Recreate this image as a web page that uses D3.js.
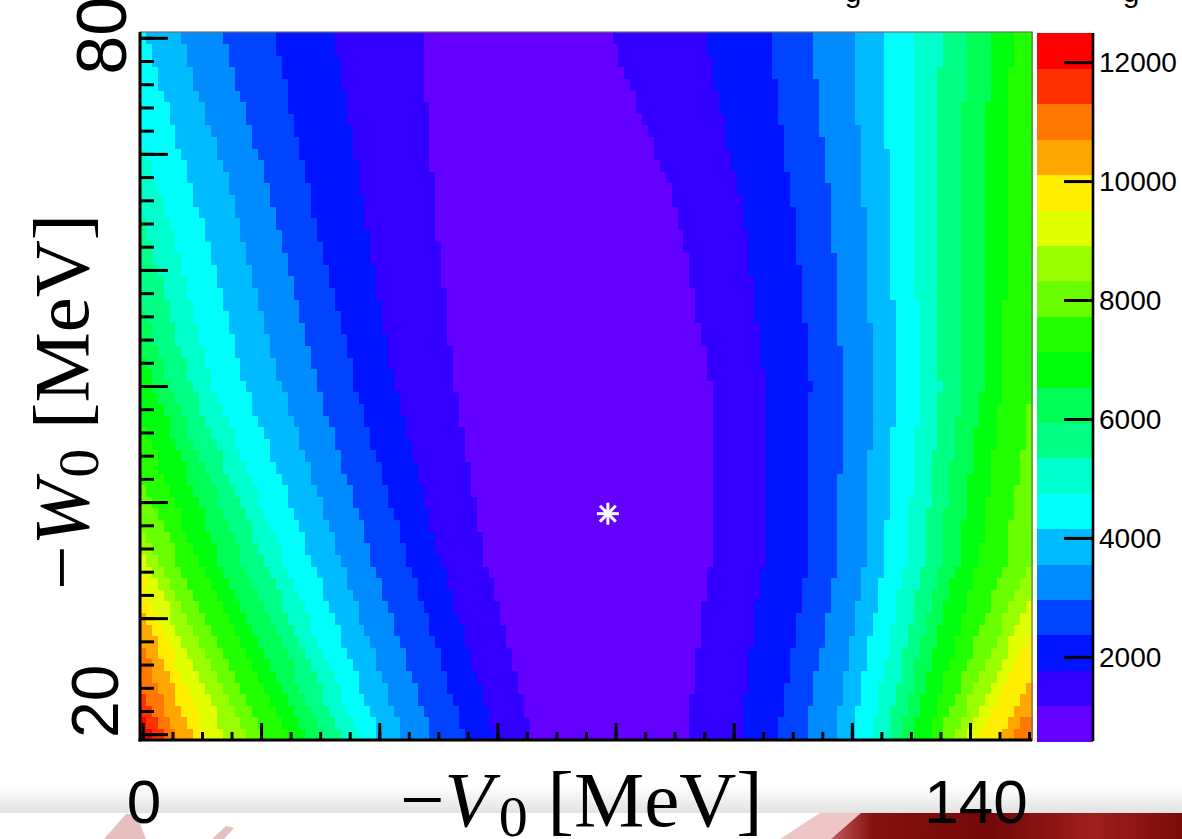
<!DOCTYPE html>
<html>
<head>
<meta charset="utf-8">
<script src="https://cdn.jsdelivr.net/npm/d3@7"></script>
<style>
  html, body { margin: 0; padding: 0; background: #ffffff; }
  svg { display: block; }
</style>
</head>
<body>
<svg id="chart" width="1182" height="839"></svg>
<script>
// ---------- scan grid ----------
const vGrid = d3.range(0, 151);   // -V0 [MeV], 1 MeV steps
const wGrid = d3.range(20, 81);   // -W0 [MeV], 1 MeV steps

// rows (-W0) at which the contour crossings are listed
const sampleW = [80, 65, 50, 35, 20];

// left flank of the valley: -V0 where level boundary k (band k+1 | band k) is crossed
const leftEdges = [
  [47.2, 49.5, 52.8, 58.0, 65.7],
  [32.5, 37.5, 42.5, 50.5, 59.5],
  [22.3, 29.0, 36.0, 45.0, 54.5],
  [13.4, 22.5, 29.5, 39.0, 49.0],
  [6.4, 16.0, 23.5, 33.5, 44.0],
  [0.5, 9.5, 17.5, 28.5, 39.8],
  [-6.0, 4.0, 12.0, 24.0, 36.5],
  [-12.0, -0.5, 8.3, 20.5, 33.5],
  [-18.0, -6.0, 4.6, 17.0, 30.5],
  [-24.0, -11.0, 2.0, 13.0, 27.5],
  [-30.0, -16.0, -3.0, 9.5, 24.2],
  [-36.0, -21.0, -7.0, 6.0, 20.6],
  [-42.0, -26.0, -10.0, 2.5, 17.2],
  [-48.0, -31.0, -14.0, 0.5, 13.8],
  [-54.0, -36.0, -18.0, -1.5, 10.7],
  [-60.0, -41.0, -22.0, -3.0, 8.2],
  [-66.0, -46.0, -26.0, -5.5, 5.4],
  [-72.0, -51.0, -30.0, -10.0, 3.4],
  [-78.0, -56.0, -34.0, -13.0, 1.7]
];

// right flank of the valley: -V0 where level boundary k (band k | band k+1) is crossed
const rightEdges = [
  [79.4, 90.5, 96.3, 96.0, 92.2],
  [95.2, 101.5, 105.5, 105.0, 101.2],
  [106.2, 110.0, 113.0, 112.5, 107.5],
  [113.2, 116.5, 118.5, 117.5, 112.2],
  [120.1, 122.0, 123.5, 122.0, 117.3],
  [125.1, 126.5, 127.5, 125.5, 120.1],
  [130.1, 130.5, 131.5, 129.0, 123.5],
  [135.1, 134.5, 135.0, 132.0, 126.1],
  [139.3, 138.5, 138.5, 135.0, 128.3],
  [143.3, 142.5, 142.0, 138.0, 130.0],
  [147.1, 146.5, 145.5, 141.5, 133.1],
  [151.0, 151.0, 150.5, 146.0, 135.1],
  [155.0, 154.5, 153.0, 150.2, 137.4],
  [159.0, 158.5, 156.0, 153.0, 139.9],
  [163.0, 162.5, 159.5, 156.0, 141.3],
  [167.0, 166.5, 163.0, 160.0, 145.0],
  [171.0, 175.0, 178.0, 170.0, 147.2],
  [175.0, 179.0, 182.0, 175.0, 151.5],
  [179.0, 183.0, 186.0, 180.0, 155.0]
];

// contour levels of the colour scale
const zMin = 585;
const zMax = 12490;
const nLevels = 20;
const levelColors = [
  "#6300ff", "#3300ff", "#0014ff", "#0044ff", "#008bff",
  "#00bbff", "#00fffc", "#00ffcc", "#00ff85", "#00ff55",
  "#00ff0e", "#22ff00", "#69ff00", "#99ff00", "#e0ff00",
  "#ffee00", "#ffa700", "#ff7700", "#ff3000", "#ff0000"
];
const zTicks = [2000, 4000, 6000, 8000, 10000, 12000];

// axis ticks and labels
const xMajorTicks = [0, 20, 40, 60, 80, 100, 120, 140];
const xMinorTicks = d3.range(0, 151, 5);
const yMajorTicks = [20, 30, 40, 50, 60, 70, 80];
const yMinorTicks = d3.range(20, 81, 2);
const xTickLabels = [0, 140];
const yTickLabels = [20, 80];

// best-fit point
const bestFit = { v: 78.7, w: 39.0 };

// ---------- layout ----------
const frame = { left: 140, right: 1032, top: 32, bottom: 740 };
const cbar = { left: 1037, right: 1093, top: 33, bottom: 741 };

const svg = d3.select("#chart");

const x = d3.scaleLinear().domain([-0.5, 150.5]).range([frame.left, frame.right]);
const y = d3.scaleLinear().domain([19.5, 80.5]).range([frame.bottom, frame.top]);
const z = d3.scaleLinear().domain([zMin, zMax]).range([cbar.bottom, cbar.top]);
const levelStep = (zMax - zMin) / nLevels;
const levels = d3.range(nLevels + 1).map(i => zMin + i * levelStep);

// contour crossing positions as a function of -W0
const leftAt = leftEdges.map(e => d3.scaleLinear().domain(sampleW).range(e));
const rightAt = rightEdges.map(e => d3.scaleLinear().domain(sampleW).range(e));

function bandOf(v, w) {
  let b = 0;
  leftAt.forEach(f => { if (v < f(w)) b++; });
  rightAt.forEach(f => { if (v > f(w)) b++; });
  return Math.min(b, nLevels - 1);
}

// ---------- slide background along the bottom ----------
const defs = svg.append("defs");
const gGray = defs.append("linearGradient").attr("id", "grayband").attr("x1", 0).attr("y1", 0).attr("x2", 0).attr("y2", 1);
gGray.append("stop").attr("offset", "0%").attr("stop-color", "#ffffff");
gGray.append("stop").attr("offset", "100%").attr("stop-color", "#e2e2e2");
const gRed = defs.append("linearGradient").attr("id", "redband").attr("x1", 0).attr("y1", 0).attr("x2", 1).attr("y2", 0);
gRed.append("stop").attr("offset", "0%").attr("stop-color", "#c05a5a");
gRed.append("stop").attr("offset", "12%").attr("stop-color", "#861010");
gRed.append("stop").attr("offset", "45%").attr("stop-color", "#730808");
gRed.append("stop").attr("offset", "75%").attr("stop-color", "#a01e1e");
gRed.append("stop").attr("offset", "100%").attr("stop-color", "#7a0b0b");

svg.append("rect").attr("x", 0).attr("y", 786).attr("width", 1182).attr("height", 27).attr("fill", "url(#grayband)");
svg.append("path")
  .attr("d", "M780,839 L820,813 L870,813 L835,839 Z")
  .attr("fill", "#e9b8b8").attr("opacity", 0.8);
svg.append("path")
  .attr("d", "M831,839 L861,813 L1182,813 L1182,839 Z")
  .attr("fill", "url(#redband)");
// faint streaks in the pale part
svg.append("path")
  .attr("d", "M104,839 L126,814 L136,814 L146,839 Z M212,839 L226,826 L234,828 L224,839 Z")
  .attr("fill", "#c77070").attr("opacity", 0.45);

// ---------- cells ----------
const cells = [];
wGrid.forEach(w => {
  // merge runs of equal band along a row
  let start = vGrid[0], band = bandOf(vGrid[0], w);
  for (let i = 1; i <= vGrid.length; i++) {
    const v = vGrid[i];
    const b = i < vGrid.length ? bandOf(v, w) : -1;
    if (b !== band) {
      cells.push({ v0: start, v1: vGrid[i - 1], w, band });
      start = v; band = b;
    }
  }
});

svg.append("g")
  .attr("shape-rendering", "crispEdges")
  .selectAll("rect")
  .data(cells)
  .join("rect")
  .attr("x", d => x(d.v0 - 0.5))
  .attr("y", d => y(d.w + 0.5))
  .attr("width", d => x(d.v1 + 0.5) - x(d.v0 - 0.5) + 0.6)
  .attr("height", d => y(d.w - 0.5) - y(d.w + 0.5) + 0.6)
  .attr("fill", d => levelColors[d.band]);

// ---------- frame ----------
svg.append("rect")
  .attr("x", frame.left).attr("y", frame.top)
  .attr("width", frame.right - frame.left).attr("height", frame.bottom - frame.top)
  .attr("fill", "none").attr("stroke", "#6e6e6e").attr("stroke-width", 1.2);

// ---------- axes (ticks inside the frame) ----------
function styleAxis(g, w) {
  g.select(".domain").remove();
  g.selectAll(".tick line").attr("stroke", "#000").attr("stroke-width", w);
  g.selectAll(".tick text").remove();
}
svg.append("g").attr("transform", `translate(0,${frame.bottom})`)
  .call(d3.axisBottom(x).tickValues(xMinorTicks).tickSize(-8).tickFormat(""))
  .call(g => styleAxis(g, 3));
svg.append("g").attr("transform", `translate(0,${frame.bottom})`)
  .call(d3.axisBottom(x).tickValues(xMajorTicks).tickSize(-17).tickFormat(""))
  .call(g => styleAxis(g, 3));
svg.append("g").attr("transform", `translate(${frame.left},0)`)
  .call(d3.axisLeft(y).tickValues(yMinorTicks).tickSize(-14).tickFormat(""))
  .call(g => styleAxis(g, 3));
svg.append("g").attr("transform", `translate(${frame.left},0)`)
  .call(d3.axisLeft(y).tickValues(yMajorTicks).tickSize(-28).tickFormat(""))
  .call(g => styleAxis(g, 3));

svg.append("line").attr("x1", frame.left).attr("x2", frame.left)
  .attr("y1", frame.top).attr("y2", frame.bottom + 1.5)
  .attr("stroke", "#000").attr("stroke-width", 3);
svg.append("line").attr("x1", frame.left - 1.5).attr("x2", frame.right)
  .attr("y1", frame.bottom).attr("y2", frame.bottom)
  .attr("stroke", "#000").attr("stroke-width", 3);

// ---------- best-fit marker ----------
const star = svg.append("g")
  .attr("transform", `translate(${x(bestFit.v)},${y(bestFit.w)})`)
  .attr("stroke", "#ffffff").attr("stroke-width", 3).attr("stroke-linecap", "butt");
const r = 11;
star.append("line").attr("x1", -r).attr("x2", r).attr("y1", 0).attr("y2", 0);
star.append("line").attr("x1", 0).attr("x2", 0).attr("y1", -r).attr("y2", r);
star.append("line").attr("x1", -r * 0.72).attr("x2", r * 0.72).attr("y1", -r * 0.72).attr("y2", r * 0.72);
star.append("line").attr("x1", -r * 0.72).attr("x2", r * 0.72).attr("y1", r * 0.72).attr("y2", -r * 0.72);

// ---------- colour bar ----------
svg.append("g")
  .attr("shape-rendering", "crispEdges")
  .selectAll("rect")
  .data(d3.range(nLevels))
  .join("rect")
  .attr("x", cbar.left)
  .attr("width", cbar.right - cbar.left)
  .attr("y", i => z(levels[i + 1]))
  .attr("height", i => z(levels[i]) - z(levels[i + 1]) + 0.5)
  .attr("fill", i => levelColors[i]);

svg.append("g").attr("transform", `translate(${cbar.right},0)`)
  .call(d3.axisLeft(z).tickValues(zTicks).tickSize(-29).tickFormat(""))
  .call(g => {
    g.select(".domain").remove();
    g.selectAll(".tick line").attr("x2", -29).attr("stroke", "#000").attr("stroke-width", 3);
    g.selectAll(".tick text").remove();
  });
svg.append("line").attr("x1", cbar.right).attr("x2", cbar.right)
  .attr("y1", cbar.top).attr("y2", cbar.bottom)
  .attr("stroke", "#000").attr("stroke-width", 2.6);

svg.append("g")
  .selectAll("text")
  .data(zTicks)
  .join("text")
  .attr("x", 1099)
  .attr("y", d => z(d))
  .attr("dy", "0.36em")
  .attr("font-family", "'Liberation Sans', Arial, sans-serif")
  .attr("font-size", 28)
  .attr("fill", "#000")
  .text(d => d);

// ---------- tick labels ----------
const labelFont = "'Liberation Sans', Arial, sans-serif";
svg.append("g")
  .selectAll("text")
  .data(xTickLabels)
  .join("text")
  .attr("x", d => x(d) + (d === 0 ? 1 : 6))
  .attr("y", 823)
  .attr("text-anchor", "middle")
  .attr("font-family", labelFont)
  .attr("font-size", 62)
  .attr("fill", "#000")
  .text(d => d);

svg.append("g")
  .selectAll("text")
  .data(yTickLabels)
  .join("text")
  .attr("transform", d => d === 80
    ? `translate(126,${y(d) - 2}) rotate(-90)`
    : `translate(118,${y(d) - 33}) rotate(-90)`)
  .attr("text-anchor", "middle")
  .attr("font-family", labelFont)
  .attr("font-size", d => d === 80 ? 70 : 66)
  .attr("fill", "#000")
  .text(d => d);

// caption line above the plot, mostly outside the page
svg.append("g")
  .selectAll("text")
  .data([{ x: 853, t: "g" }, { x: 1131, t: "g" }])
  .join("text")
  .attr("x", d => d.x).attr("y", 2)
  .attr("text-anchor", "middle")
  .attr("font-family", labelFont)
  .attr("font-size", 30)
  .attr("fill", "#000")
  .text(d => d.t);

// ---------- axis titles ----------
const titleFont = "'Liberation Serif', 'Times New Roman', serif";
const xTitle = svg.append("text")
  .attr("x", 400).attr("y", 826)
  .attr("font-family", titleFont).attr("font-size", 79).attr("fill", "#000");
xTitle.append("tspan").text("\u2212");
xTitle.append("tspan").attr("font-style", "italic").text("V");
xTitle.append("tspan").attr("font-size", 58).attr("dx", 6).attr("dy", 10).text("0");
xTitle.append("tspan").attr("dy", -10).text(" [MeV]");

const yTitle = svg.append("text")
  .attr("transform", "translate(88,402) rotate(-90)")
  .attr("text-anchor", "middle")
  .attr("font-family", titleFont).attr("font-size", 79).attr("fill", "#000");
yTitle.append("tspan").text("\u2212");
yTitle.append("tspan").attr("font-style", "italic").text("W");
yTitle.append("tspan").attr("font-size", 58).attr("dx", 2).attr("dy", 10).text("0");
yTitle.append("tspan").attr("dy", -10).text(" [MeV]");
</script>
</body>
</html>
